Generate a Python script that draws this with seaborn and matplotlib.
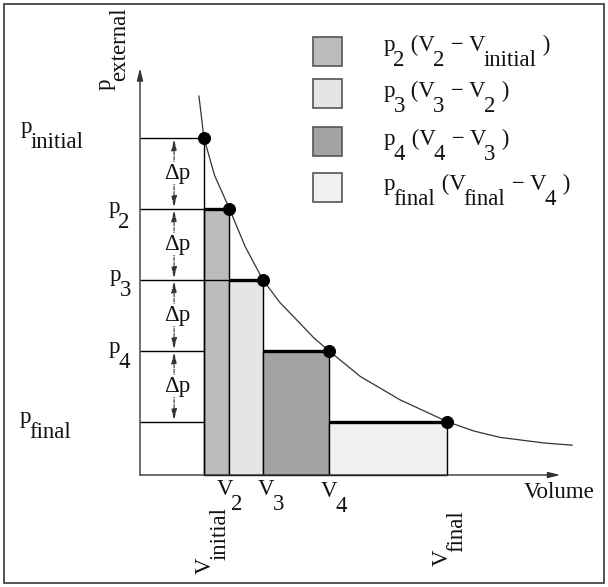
# plot.py
# Stepwise isothermal expansion: work done against p_external as stacked rectangles

import numpy as np
import matplotlib
matplotlib.use('Agg')
import matplotlib.pyplot as plt
import seaborn as sns
from matplotlib.patches import Rectangle

# ---------- data (1 unit = one pressure step) ----------
p_levels = [4.75, 3.75, 2.75, 1.75, 0.75]      # p_initial, p2, p3, p4, p_final
v_levels = [0.90, 1.26, 1.73, 2.66, 4.33]      # V_initial, V2, V3, V4, V_final
p_names = ['initial', '2', '3', '4', 'final']
v_names = ['initial', '2', '3', '4', 'final']

# isotherm
curve_v = [0.83, 0.90, 1.05, 1.26, 1.48, 1.73, 1.97, 2.25, 2.45, 2.66, 3.10, 3.66,
           4.33, 4.70, 5.07, 5.70, 6.09]
curve_p = [5.34, 4.75, 4.22, 3.75, 3.22, 2.75, 2.43, 2.14, 1.93, 1.75, 1.39, 1.06,
           0.75, 0.62, 0.53, 0.45, 0.42]

bar_colors = ['#bcbcbc', '#e5e5e5', '#a3a3a3', '#f0f0f0']

# ---------- layout helpers ----------
PX = 1 / 71.0          # data units per pixel
SUB = 10.5             # subscript drop, points
FS = 16.5


def px(x, y):
    """pixel position in the 608x587 picture -> data coords"""
    return (x - 140) * PX, (475 - y) * PX


sns.set_theme(style='white')
plt.rcParams['font.family'] = ['Liberation Serif', 'DejaVu Serif']

fig = plt.figure(figsize=(6.08, 5.87), dpi=100)
ax = fig.add_axes([0, 0, 1, 1])
ax.set_xlim(-140 * PX, 468 * PX)
ax.set_ylim(-112 * PX, 475 * PX)
ax.axis('off')


def chain(x, y, pieces, rot=0, fs=FS):
    """write text made of base / subscript pieces, subscripts at full size"""
    txt, lvl = pieces[0]
    if rot == 0:
        prev = ax.text(x, y, txt, ha='left', va='baseline', fontsize=fs, color='#111')
    else:
        prev = ax.text(x, y, txt, ha='left', va='bottom', rotation=90, fontsize=fs, color='#111')
    for txt, level in pieces[1:]:
        d = (lvl - level) * SUB
        gap = -1.5 if level > lvl else 0.5
        if rot == 0:
            prev = ax.annotate(txt, xy=(1, 0), xycoords=prev, xytext=(gap, d),
                               textcoords='offset points', ha='left', va='bottom',
                               fontsize=fs, color='#111')
        else:
            prev = ax.annotate(txt, xy=(1, 1), xycoords=prev, xytext=(-d, gap),
                               textcoords='offset points', ha='right', va='bottom',
                               rotation=90, fontsize=fs, color='#111')
        lvl = level
    return prev


# ---------- rectangles (work of each step) ----------
widths = np.diff(v_levels)
ax.bar(v_levels[:-1], p_levels[1:], width=widths, align='edge',
       color=bar_colors, edgecolor='black', linewidth=1, zorder=2)
ax.hlines(p_levels[1:], v_levels[:-1], v_levels[1:], color='black', lw=2.4, zorder=4)

# guide lines from the axis
guide_end = [v_levels[0], v_levels[0], v_levels[1], v_levels[0], v_levels[0]]
ax.hlines(p_levels, 0, guide_end, color='black', lw=1, zorder=3)
ax.vlines(v_levels[0], 0, p_levels[0], color='black', lw=1, zorder=3)

# isotherm and state points
sns.lineplot(x=curve_v, y=curve_p, sort=False, estimator=None, color='#333333',
             lw=0.9, ax=ax, zorder=5)
sns.scatterplot(x=v_levels, y=p_levels, color='black', s=75, edgecolor='black',
                ax=ax, zorder=6)

# axes with arrows
arr = dict(arrowstyle='-|>,head_length=0.6,head_width=0.15', lw=1, color='#333333',
           shrinkA=0, shrinkB=0)
ax.annotate('', xy=(0, 5.73), xytext=(0, 0), arrowprops=arr, zorder=3)
ax.annotate('', xy=(5.92, 0), xytext=(0, 0), arrowprops=arr, zorder=3)

# delta p arrows
for i in range(len(p_levels) - 1):
    ax.annotate('', xy=(0.48, p_levels[i + 1]), xytext=(0.48, p_levels[i]),
                arrowprops=dict(arrowstyle='<|-|>,head_length=0.55,head_width=0.13',
                                lw=0.8, color='#333333', shrinkA=1, shrinkB=1,
                                linestyle=(0, (3, 1.5))), zorder=3)
    ax.text(0.52, (p_levels[i] + p_levels[i + 1]) / 2, 'Δp', ha='center', va='center',
            fontsize=FS, color='#111', zorder=4,
            bbox=dict(facecolor='white', edgecolor='none', pad=0.5))

# ---------- labels ----------
p_label_px = [(21, 133), (109, 213), (110, 281), (109, 353), (20, 423)]
for name, (x, y) in zip(p_names, p_label_px):
    chain(*px(x, y), [('p', 0), (name, 1)])

v_label_px = {'2': (217, 495), '3': (258, 495), '4': (321, 497)}
for name, (x, y) in v_label_px.items():
    chain(*px(x, y), [('V', 0), (name, 1)])
chain(*px(195, 574), [('V', 0), ('initial', 1)], rot=90)
chain(*px(432, 566), [('V', 0), ('final', 1)], rot=90)
chain(*px(95, 90), [('p', 0), ('external', 1)], rot=90)

ax.text(*px(524, 498), 'Volume', ha='left', va='baseline', fontsize=FS, color='#111')

# ---------- legend (drawn by hand to keep full-size subscripts) ----------
box_tops = [37, 79, 127, 173]
text_base = [51, 97, 145, 190]
for i in range(4):
    x0, y0 = px(313, box_tops[i] + 29)
    ax.add_patch(Rectangle((x0, y0), 29 * PX, 29 * PX, facecolor=bar_colors[i],
                           edgecolor='#555555', lw=1.2, zorder=3))
    pieces = [('p', 0), (p_names[i + 1], 1), (' (V', 0), (v_names[i + 1], 1),
              (' − V', 0), (v_names[i], 1), (' )', 0)]
    chain(*px(384, text_base[i]), pieces)

# outer frame
fig.patches.append(Rectangle((4 / 608, 4 / 587), 600 / 608, 579 / 587,
                             transform=fig.transFigure, fill=False,
                             edgecolor='#444444', lw=1.3))

fig.savefig('out.png', dpi=100)
plt.close()
